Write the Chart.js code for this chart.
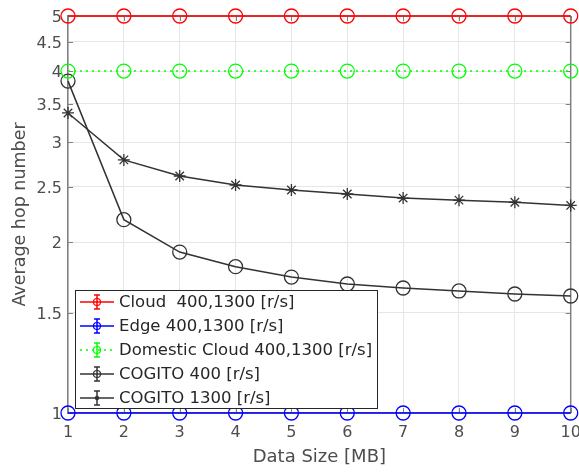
<!DOCTYPE html>
<html>
<head>
<meta charset="utf-8">
<script src="https://cdn.jsdelivr.net/npm/chart.js@4.4.1/dist/chart.umd.min.js"></script>
<style>
  html, body { margin: 0; padding: 0; background: #fff; }
  #wrap { width: 579px; height: 472px; }
</style>
</head>
<body>
<div id="wrap"><canvas id="hopChart" width="579" height="472"></canvas></div>
<script>
// data
const dataSizes = [1, 2, 3, 4, 5, 6, 7, 8, 9, 10];
const cloud = [5, 5, 5, 5, 5, 5, 5, 5, 5, 5];
const edge = [1, 1, 1, 1, 1, 1, 1, 1, 1, 1];
const domesticCloud = [4, 4, 4, 4, 4, 4, 4, 4, 4, 4];
const cogito400 = [3.84, 2.19, 1.92, 1.81, 1.735, 1.687, 1.66, 1.64, 1.62, 1.607];
const cogito1300 = [3.375, 2.79, 2.614, 2.52, 2.47, 2.43, 2.39, 2.37, 2.35, 2.32];
const yTicks = [1, 1.5, 2, 2.5, 3, 3.5, 4, 4.5, 5];

const fontFamily = "'DejaVu Sans', sans-serif";
const textGrey = '#4d4d4d';

function pts(arr) {
  return dataSizes.map((x, i) => ({ x: x, y: arr[i] }));
}

function series(label, arr, color, style, dash) {
  return {
    label: label,
    data: pts(arr),
    borderColor: color,
    backgroundColor: 'rgba(0,0,0,0)',
    borderWidth: 1.5,
    borderDash: dash || [],
    pointStyle: style,
    pointRadius: style === 'star' ? 6 : 7,
    pointBorderWidth: 1.3,
    pointBorderColor: color,
    pointBackgroundColor: 'rgba(0,0,0,0)',
    clip: false,
    tension: 0
  };
}

// matlab style box: right border + inward tick marks
const axesBox = {
  id: 'axesBox',
  beforeDatasetsDraw(chart) {
    const { ctx, chartArea: a, scales } = chart;
    ctx.save();
    ctx.strokeStyle = '#808080';
    ctx.lineWidth = 1.5;
    ctx.beginPath();
    ctx.moveTo(a.right, a.top);
    ctx.lineTo(a.right, a.bottom);
    ctx.moveTo(a.left, a.top);
    ctx.lineTo(a.right, a.top);
    ctx.stroke();
    ctx.lineWidth = 1;
    ctx.beginPath();
    yTicks.forEach(v => {
      const y = Math.round(scales.y.getPixelForValue(v)) + 0.5;
      ctx.moveTo(a.left, y); ctx.lineTo(a.left + 5, y);
      ctx.moveTo(a.right, y); ctx.lineTo(a.right - 5, y);
    });
    dataSizes.forEach(v => {
      const x = Math.round(scales.x.getPixelForValue(v)) + 0.5;
      ctx.moveTo(x, a.bottom); ctx.lineTo(x, a.bottom - 5);
      ctx.moveTo(x, a.top); ctx.lineTo(x, a.top + 5);
    });
    ctx.stroke();
    ctx.restore();
  }
};

// legend drawn inside the axes, matlab style with errorbar glyphs
const boxLegend = {
  id: 'boxLegend',
  afterDraw(chart) {
    const ctx = chart.ctx;
    const x0 = 75, y0 = 290, w = 302, h = 118;
    ctx.save();
    ctx.fillStyle = '#fff';
    ctx.fillRect(x0, y0, w, h);
    ctx.strokeStyle = '#262626';
    ctx.lineWidth = 1;
    ctx.strokeRect(x0 + 0.5, y0 + 0.5, w, h);
    ctx.font = '16.5px ' + fontFamily;
    ctx.textBaseline = 'middle';
    chart.data.datasets.forEach((ds, i) => {
      const y = y0 + 12 + i * 24;
      const c = ds.borderColor;
      ctx.strokeStyle = c;
      ctx.lineWidth = 1.5;
      ctx.setLineDash(ds.borderDash);
      ctx.beginPath();
      ctx.moveTo(80, y);
      ctx.lineTo(114, y);
      ctx.stroke();
      ctx.setLineDash([]);
      // errorbar
      ctx.beginPath();
      ctx.moveTo(97, y - 7); ctx.lineTo(97, y + 7);
      ctx.moveTo(94, y - 7); ctx.lineTo(100, y - 7);
      ctx.moveTo(94, y + 7); ctx.lineTo(100, y + 7);
      ctx.stroke();
      if (ds.pointStyle === 'circle') {
        ctx.lineWidth = 1.2;
        ctx.beginPath();
        ctx.arc(97, y, 3.5, 0, Math.PI * 2);
        ctx.stroke();
      } else {
        ctx.fillStyle = c;
        ctx.beginPath();
        ctx.arc(97, y, 2.2, 0, Math.PI * 2);
        ctx.fill();
      }
      ctx.fillStyle = '#262626';
      ctx.fillText(ds.label, 119, y + 1);
    });
    ctx.restore();
  }
};

const ctx = document.getElementById('hopChart').getContext('2d');
new Chart(ctx, {
  type: 'line',
  data: {
    datasets: [
      series('Cloud  400,1300 [r/s]', cloud, '#ff0000', 'circle'),
      series('Edge 400,1300 [r/s]', edge, '#0000ff', 'circle'),
      series('Domestic Cloud 400,1300 [r/s]', domesticCloud, '#00ff00', 'circle', [2, 4]),
      series('COGITO 400 [r/s]', cogito400, '#333333', 'circle'),
      series('COGITO 1300 [r/s]', cogito1300, '#333333', 'star')
    ]
  },
  options: {
    responsive: false,
    animation: false,
    layout: { padding: { top: 16, right: 6, left: 0, bottom: 0 } },
    plugins: {
      legend: { display: false },
      tooltip: { enabled: false }
    },
    scales: {
      x: {
        type: 'linear',
        min: 1,
        max: 10,
        ticks: {
          stepSize: 1,
          color: textGrey,
          font: { family: fontFamily, size: 16 },
          padding: 10,
          maxRotation: 0
        },
        grid: { color: '#e6e6e6', drawTicks: false },
        border: { color: '#808080', width: 1.5 },
        title: {
          display: true,
          text: 'Data Size [MB]',
          color: textGrey,
          font: { family: fontFamily, size: 18 },
          padding: { top: 0, bottom: 4 }
        },
        afterFit(scale) {
          scale.height = 59;
          scale.paddingLeft = 0;
          scale.paddingRight = 0;
        }
      },
      y: {
        type: 'logarithmic',
        min: 1,
        max: 5,
        afterBuildTicks(scale) {
          scale.ticks = yTicks.map(v => ({ value: v }));
        },
        ticks: {
          color: textGrey,
          font: { family: fontFamily, size: 16 },
          padding: 6,
          labelOffset: 2,
          autoSkip: false,
          callback: v => String(v)
        },
        grid: { color: '#e6e6e6', drawTicks: false },
        border: { color: '#808080', width: 1.5 },
        title: {
          display: true,
          text: 'Average hop number',
          color: textGrey,
          font: { family: fontFamily, size: 17.5 },
          padding: { top: 10, bottom: 0 }
        },
        afterFit(scale) {
          scale.width = 68;
          scale.paddingTop = 0;
          scale.paddingBottom = 0;
        }
      }
    }
  },
  plugins: [axesBox, boxLegend]
});
</script>
</body>
</html>
